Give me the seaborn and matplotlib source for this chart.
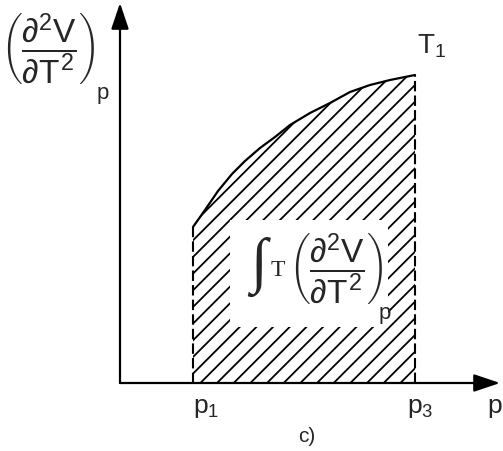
import matplotlib
matplotlib.use("Agg")
import matplotlib.pyplot as plt
from matplotlib.patches import Rectangle
import seaborn as sns

# Pressure (arbitrary units) and the curve (d2V/dT2)_p along isotherm T1
pressure = [73, 85, 98, 112, 125, 140, 155, 170, 190, 210, 230, 250, 270, 295]
curvature = [156, 173, 192, 209, 222, 235, 246, 258, 270, 280, 291, 298, 303, 308]
p_start, p_end = 73, 295
axis_len_p, axis_len_v = 380, 380

sns.set_style("white")
plt.rcParams["mathtext.fontset"] = "custom"
plt.rcParams["mathtext.rm"] = "Liberation Sans"
plt.rcParams["mathtext.it"] = "Liberation Sans"
plt.rcParams["mathtext.bf"] = "Liberation Sans:bold"
plt.rcParams["font.family"] = ["Liberation Sans", "DejaVu Sans"]
plt.rcParams["hatch.linewidth"] = 1.3

fig = plt.figure(figsize=(5.03, 4.51), dpi=100)
ax = fig.add_axes([0, 0, 1, 1])
ax.set_xlim(-120, 383)
ax.set_ylim(-68, 383)
ax.axis("off")

# hatched area under the curve between p1 and p3
ax.fill_between(pressure, 0, curvature, facecolor="none", edgecolor="black",
                hatch="//", linewidth=0)

# the curve
sns.lineplot(x=pressure, y=curvature, ax=ax, color="black", lw=1.6,
             sort=False, estimator=None)

# dashed bounds at p1 and p3
for p, v in [(p_start, curvature[0]), (p_end, curvature[-1])]:
    ax.plot([p, p], [0, v], color="black", lw=1.5, ls=(0, (5, 2)), zorder=3)

# axes with arrowheads
arrow = dict(arrowstyle="-|>,head_length=0.8,head_width=0.27", lw=1.6,
             color="black", mutation_scale=20, shrinkA=0, shrinkB=0)
ax.annotate("", xy=(axis_len_p, 0), xytext=(0, 0), arrowprops=arrow)
ax.annotate("", xy=(0, axis_len_v), xytext=(0, 0), arrowprops=arrow)

frac = r"$\left(\dfrac{\partial^2 V}{\partial T^2}\right)$"

# axis labels
ax.text(-72, 334, frac, fontsize=24, ha="center", va="center")
ax.text(-17, 290, "p", fontsize=16, ha="center", va="center")
ax.text(297, 330, r"$\mathrm{T}_1$", fontsize=20, ha="left", va="baseline")
ax.text(p_start, -13, r"$\mathrm{p}_1$", fontsize=19, ha="left", va="top")
ax.text(p_end - 8, -13, r"$\mathrm{p}_3$", fontsize=19, ha="left", va="top")
ax.text(367, -13, r"$\mathrm{p}$", fontsize=19, ha="left", va="top")
ax.text(187, -54, "c)", fontsize=15, ha="center", va="center")

# integral label on a white patch inside the hatched area
ax.add_patch(Rectangle((110, 56), 158, 107, facecolor="white",
                       edgecolor="none", zorder=2.5))
ax.text(139, 116, "\u222b", fontsize=44, family="Liberation Serif",
        ha="center", va="center", zorder=4)
ax.text(158, 113, "T", fontsize=17, family="Liberation Serif",
        ha="center", va="center", zorder=4)
ax.text(216, 114, frac, fontsize=24, ha="center", va="center", zorder=4)
ax.text(265, 70, "p", fontsize=16, ha="center", va="center", zorder=4)

fig.savefig("out.png", dpi=100, facecolor="white")
